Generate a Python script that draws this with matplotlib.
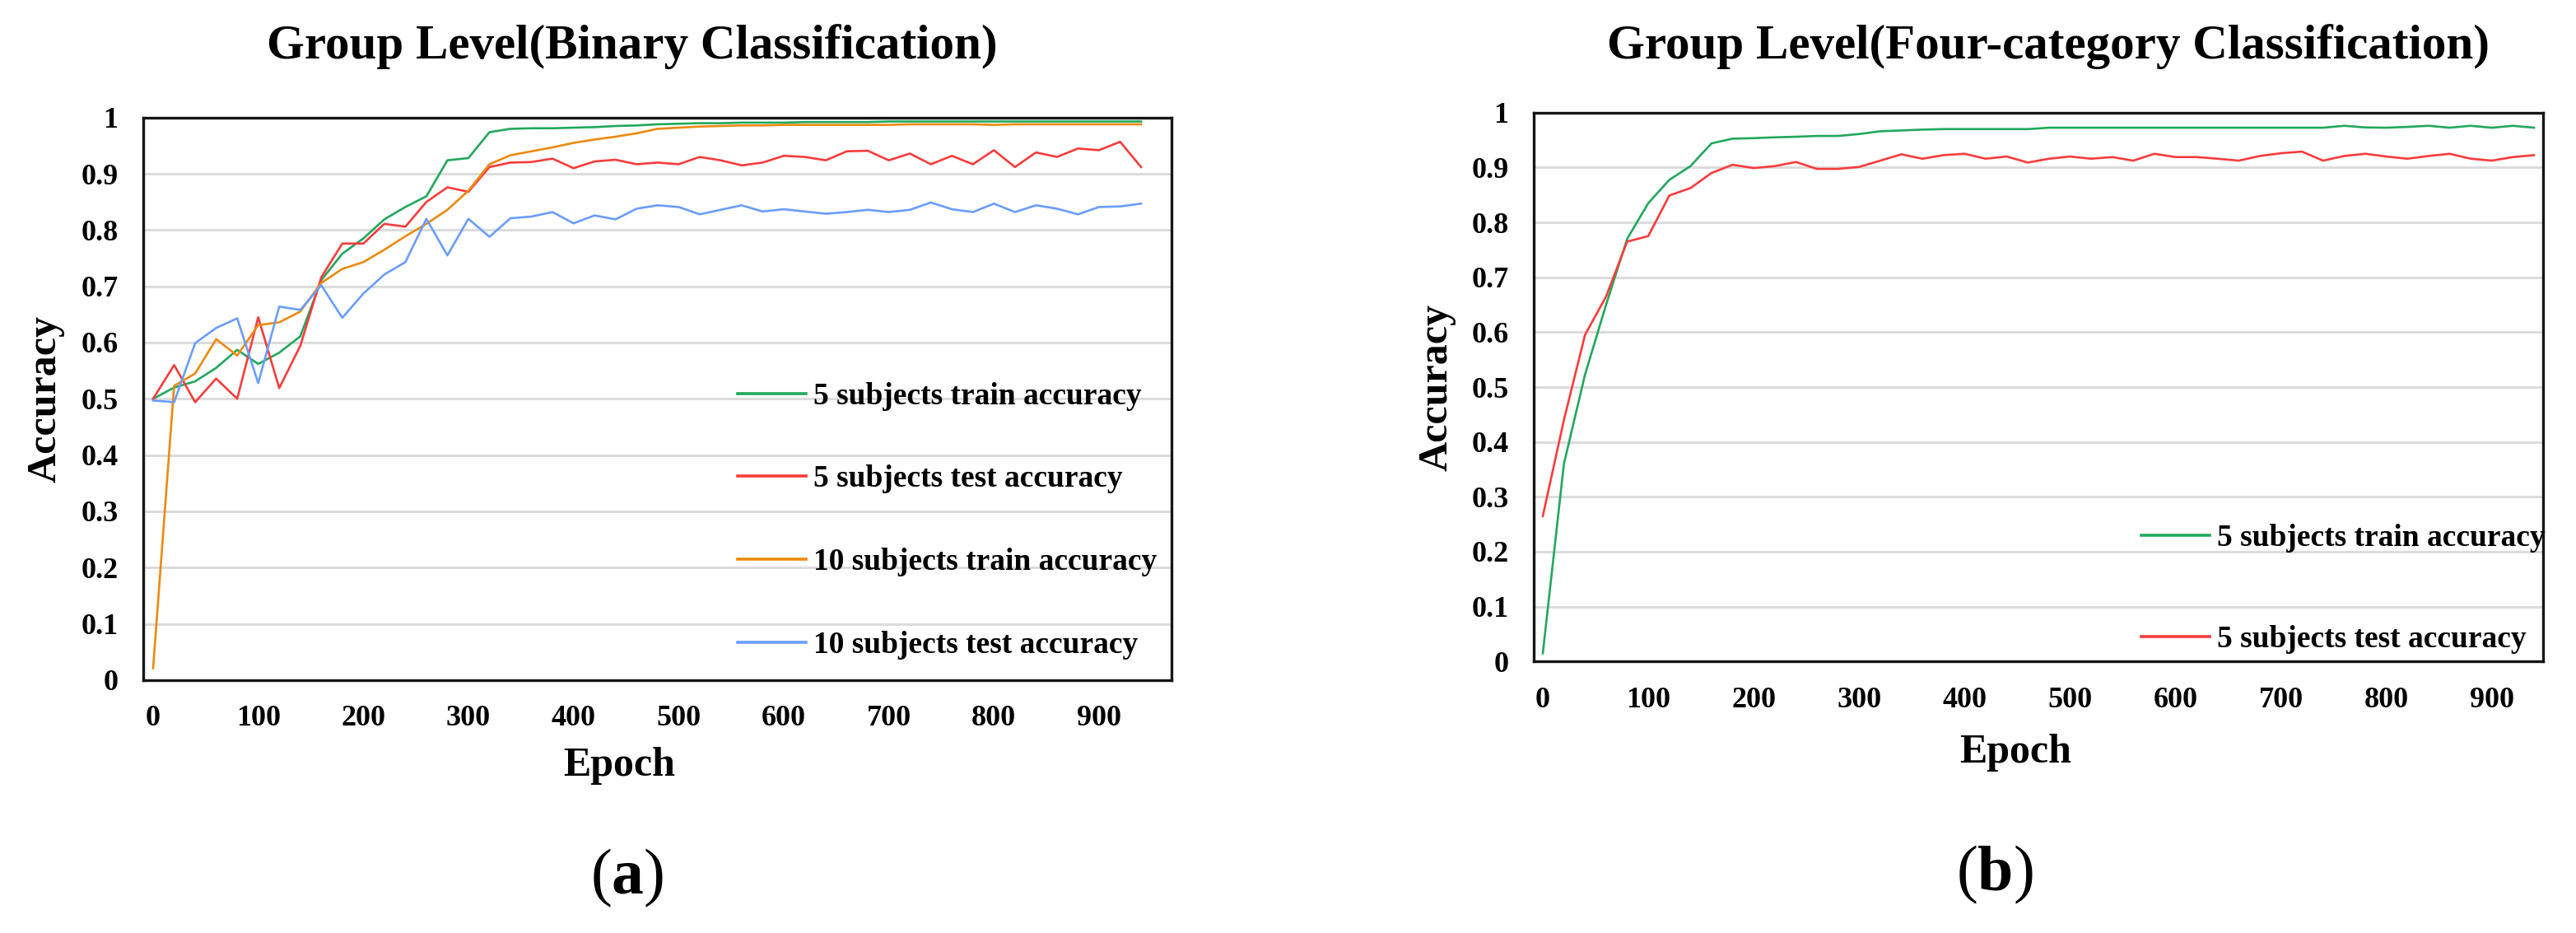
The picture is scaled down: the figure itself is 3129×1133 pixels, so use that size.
import numpy as np
import matplotlib
matplotlib.use('Agg')
import matplotlib.pyplot as plt
from matplotlib.ticker import FuncFormatter, MultipleLocator

plt.rcParams['font.family'] = 'Liberation Serif'
plt.rcParams['font.weight'] = 'bold'
plt.rcParams['mathtext.fontset'] = 'custom'
plt.rcParams['mathtext.rm'] = 'Liberation Serif:weight=normal'
plt.rcParams['mathtext.bf'] = 'Liberation Serif:weight=bold'

# epochs, one point every 20
epochs = np.arange(0, 941, 20)

# (a) binary classification
bin_train5 = [0.50, 0.52, 0.531, 0.555, 0.587, 0.562, 0.582, 0.611, 0.711, 0.758,
              0.785, 0.819, 0.841, 0.860, 0.924, 0.928, 0.974, 0.980, 0.981, 0.981,
              0.982, 0.983, 0.985, 0.986, 0.988, 0.989, 0.990, 0.990, 0.991, 0.991,
              0.991, 0.992, 0.992, 0.992, 0.992, 0.993, 0.993, 0.993, 0.993, 0.993,
              0.993, 0.993, 0.993, 0.993, 0.993, 0.993, 0.993, 0.993]
bin_test5 = [0.50, 0.56, 0.494, 0.536, 0.50, 0.645, 0.519, 0.594, 0.716, 0.776,
             0.776, 0.811, 0.806, 0.850, 0.876, 0.868, 0.912, 0.920, 0.921, 0.927,
             0.910, 0.922, 0.925, 0.917, 0.920, 0.917, 0.930, 0.924, 0.915, 0.920,
             0.932, 0.930, 0.924, 0.940, 0.941, 0.924, 0.936, 0.917, 0.932, 0.917,
             0.942, 0.912, 0.938, 0.930, 0.945, 0.942, 0.957, 0.912]
bin_train10 = [0.021, 0.523, 0.545, 0.606, 0.577, 0.631, 0.636, 0.655, 0.706, 0.731,
               0.743, 0.765, 0.789, 0.811, 0.836, 0.870, 0.917, 0.933, 0.940, 0.947,
               0.955, 0.961, 0.966, 0.972, 0.980, 0.982, 0.984, 0.985, 0.986, 0.986,
               0.987, 0.987, 0.987, 0.987, 0.987, 0.987, 0.988, 0.988, 0.988, 0.988,
               0.987, 0.988, 0.988, 0.988, 0.988, 0.988, 0.988, 0.988]
bin_test10 = [0.497, 0.494, 0.599, 0.626, 0.643, 0.528, 0.664, 0.658, 0.702, 0.644,
              0.687, 0.721, 0.743, 0.820, 0.755, 0.820, 0.788, 0.821, 0.824, 0.832,
              0.812, 0.826, 0.819, 0.838, 0.844, 0.841, 0.828, 0.836, 0.844, 0.833,
              0.837, 0.833, 0.829, 0.832, 0.836, 0.832, 0.836, 0.849, 0.837, 0.832,
              0.847, 0.832, 0.844, 0.838, 0.828, 0.841, 0.842, 0.847]

# (b) four-category classification
four_train5 = [0.015, 0.36, 0.5225, 0.65, 0.77, 0.835, 0.8775, 0.9025, 0.944, 0.9525,
               0.9535, 0.955, 0.956, 0.9575, 0.9575, 0.961, 0.966, 0.9675, 0.969, 0.970,
               0.970, 0.970, 0.970, 0.970, 0.9725, 0.9725, 0.9725, 0.9725, 0.9725, 0.9725,
               0.9725, 0.9725, 0.9725, 0.9725, 0.9725, 0.9725, 0.9725, 0.9725, 0.976, 0.973,
               0.9725, 0.974, 0.976, 0.9725, 0.976, 0.9725, 0.976, 0.9725]
four_test5 = [0.265, 0.44, 0.595, 0.665, 0.765, 0.775, 0.849, 0.8625, 0.89, 0.905,
              0.899, 0.9025, 0.91, 0.8975, 0.8975, 0.901, 0.9125, 0.924, 0.916, 0.9225,
              0.925, 0.916, 0.92, 0.909, 0.916, 0.92, 0.916, 0.919, 0.9125, 0.925,
              0.919, 0.919, 0.916, 0.9125, 0.921, 0.926, 0.929, 0.9125, 0.921, 0.925,
              0.92, 0.916, 0.921, 0.925, 0.916, 0.9125, 0.919, 0.9225]

GREEN = '#22a85c'
RED = '#f93c3c'
ORANGE = '#ec8a10'
BLUE = '#6a9dff'

fig = plt.figure(figsize=(31.29, 11.33), dpi=100)
ax1 = fig.add_axes([0.0556, 0.2711, 0.3992, 0.6029])
ax2 = fig.add_axes([0.5954, 0.2910, 0.3918, 0.5883])


def style_axis(ax, xlim):
    ax.set_xlim(*xlim)
    ax.set_ylim(0, 1)
    ax.yaxis.set_major_locator(MultipleLocator(0.1))
    ax.xaxis.set_major_locator(MultipleLocator(100))
    ax.yaxis.set_major_formatter(FuncFormatter(lambda v, p: '{:g}'.format(round(v, 1))))
    ax.grid(axis='y', color='#dcdcdc', linewidth=2.2)
    ax.set_axisbelow(True)
    for s in ax.spines.values():
        s.set_linewidth(2.4)
        s.set_color('#151515')
    ax.tick_params(length=0, labelsize=26, pad=22)
    for lab in ax.get_xticklabels() + ax.get_yticklabels():
        lab.set_fontweight('bold')


lw = 1.9
ax1.plot(epochs, bin_train5, color=GREEN, lw=lw, label='5 subjects train accuracy')
ax1.plot(epochs, bin_test5, color=RED, lw=lw, label='5 subjects test accuracy')
ax1.plot(epochs, bin_train10, color=ORANGE, lw=lw, label='10 subjects train accuracy')
ax1.plot(epochs, bin_test10, color=BLUE, lw=lw, label='10 subjects test accuracy')
style_axis(ax1, (-9.4, 969))

ax2.plot(epochs, four_train5, color=GREEN, lw=lw, label='5 subjects train accuracy')
ax2.plot(epochs, four_test5, color=RED, lw=lw, label='5 subjects test accuracy')
style_axis(ax2, (-8.6, 948.6))

leg_kw = dict(frameon=False, prop={'size': 27, 'weight': 'bold'}, borderpad=0,
              borderaxespad=0, handlelength=2.2, handletextpad=0.25,
              loc='center left', bbox_transform=fig.transFigure)
leg1 = ax1.legend(bbox_to_anchor=(0.2864, 0.442), labelspacing=1.75, **leg_kw)
leg2 = ax2.legend(bbox_to_anchor=(0.8313, 0.369), labelspacing=2.36, **leg_kw)
for leg in (leg1, leg2):
    for line in leg.get_lines():
        line.set_linewidth(2.6)

fig.text(0.2454, 0.950, 'Group Level(Binary Classification)', fontsize=42.5,
         fontweight='bold', ha='center', va='center')
fig.text(0.7953, 0.950, 'Group Level(Four-category Classification)', fontsize=42.5,
         fontweight='bold', ha='center', va='center')

fig.text(0.2404, 0.179, 'Epoch', fontsize=36, fontweight='bold', ha='center', va='center')
fig.text(0.7824, 0.193, 'Epoch', fontsize=36, fontweight='bold', ha='center', va='center')
fig.text(0.0176, 0.572, 'Accuracy', fontsize=36, fontweight='bold', rotation=90,
         ha='center', va='center')
fig.text(0.5577, 0.585, 'Accuracy', fontsize=36, fontweight='bold', rotation=90,
         ha='center', va='center')

fig.text(0.2433, 0.059, r'$\mathrm{(}\mathbf{a}\mathrm{)}$', fontsize=56, ha='center', va='center')
fig.text(0.7744, 0.062, r'$\mathrm{(}\mathbf{b}\mathrm{)}$', fontsize=56, ha='center', va='center')

fig.savefig('out.png', dpi=100)
